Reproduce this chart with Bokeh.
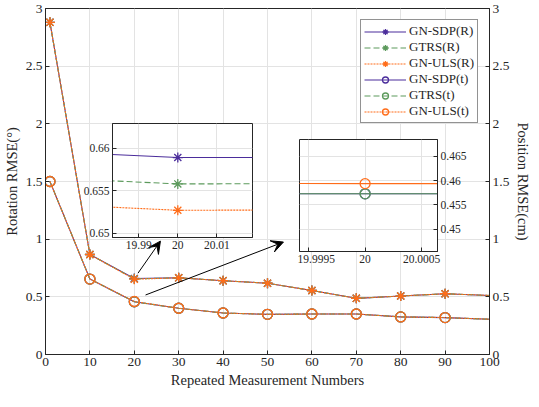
from bokeh.plotting import figure
from bokeh.models import Range1d, LinearAxis, FixedTicker, Legend, LegendItem, Arrow, VeeHead
from bokeh.embed import file_html
from bokeh.resources import INLINE

# ---------------- data ----------------
meas_numbers = [1, 10, 20, 30, 40, 50, 60, 70, 80, 90, 100]
rot_gn_sdp = [2.88, 0.867, 0.6589, 0.665, 0.640, 0.618, 0.555, 0.487, 0.507, 0.527, 0.512]
rot_gtrs = [2.88, 0.867, 0.6558, 0.665, 0.640, 0.618, 0.555, 0.487, 0.507, 0.527, 0.512]
rot_gn_uls = [2.88, 0.867, 0.6527, 0.665, 0.640, 0.618, 0.555, 0.487, 0.507, 0.527, 0.512]
pos_gn_sdp = [1.50, 0.654, 0.4573, 0.401, 0.360, 0.348, 0.351, 0.351, 0.326, 0.320, 0.306]
pos_gtrs = [1.50, 0.654, 0.4573, 0.401, 0.360, 0.348, 0.351, 0.351, 0.326, 0.320, 0.306]
pos_gn_uls = [1.50, 0.654, 0.4594, 0.401, 0.360, 0.348, 0.351, 0.351, 0.326, 0.320, 0.306]

x_ticks = [0, 10, 20, 30, 40, 50, 60, 70, 80, 90, 100]
x_tick_labels = ["0", "10", "20", "30", "40", "50", "60", "70", "80", "90", "100"]
y_ticks = [0, 0.5, 1, 1.5, 2, 2.5, 3]
y_tick_labels = ["0", "0.5", "1", "1.5", "2", "2.5", "3"]

inset1_x_ticks = [19.99, 20, 20.01]
inset1_x_labels = ["19.99", "20", "20.01"]
inset1_y_ticks = [0.65, 0.655, 0.66]
inset1_y_labels = ["0.65", "0.655", "0.66"]
inset2_x_ticks = [19.9995, 20, 20.0005]
inset2_x_labels = ["19.9995", "20", "20.0005"]
inset2_y_ticks = [0.45, 0.455, 0.46, 0.465]
inset2_y_labels = ["0.45", "0.455", "0.46", "0.465"]

# inset view windows (data units of the inset)
inset1_xlim = (19.9833, 20.0191)
inset1_ylim = (0.6495, 0.6629)
inset2_xlim = (19.99942, 20.00064)
inset2_ylim = (0.4454, 0.4685)

# inset boxes placed in main-plot data coordinates (x0, x1, y_top, y_bottom)
inset1_box = (14.12, 45.54, 2.071, 1.082)
inset2_box = (56.20, 87.33, 1.938, 0.966)

# arrows (main data coordinates): x_start, y_start, x_end, y_end
arrow1 = (20.83, 0.705, 25.88, 0.983)
arrow2 = (22.53, 0.516, 53.59, 0.975)

# ---------------- style ----------------
FONT = "Liberation Serif"
TXT = "#262626"
GRID = "#e3e3e3"
C_SDP = "#4b2d9b"
C_GTRS = "#5c9a5c"
C_ULS = "#ff6d1a"

PAGE_MARGIN = 8
LB, RB, TB, BB = 41, 38, 8, 37
FW, FH = 444, 346


def overrides(ticks, labels):
    d = {}
    for t, l in zip(ticks, labels):
        d[int(t) if float(t).is_integer() else t] = l
    return d


def style_axis(ax, ticks, labels, size="13.5px"):
    ax.ticker = FixedTicker(ticks=ticks)
    ax.major_label_overrides = overrides(ticks, labels)
    ax.major_tick_in = 4
    ax.major_tick_out = 0
    ax.minor_tick_in = 0
    ax.minor_tick_out = 0
    ax.axis_line_color = TXT
    ax.major_tick_line_color = TXT
    ax.major_label_text_font = FONT
    ax.major_label_text_color = TXT
    ax.major_label_text_font_size = size
    ax.major_label_standoff = 3
    ax.axis_label_text_font = FONT
    ax.axis_label_text_font_style = "normal"
    ax.axis_label_text_color = TXT
    ax.axis_label_text_font_size = "14.5px"
    ax.axis_label_standoff = 3


# ---------------- main figure ----------------
p = figure(frame_width=FW, frame_height=FH,
           min_border_left=LB, min_border_right=RB, min_border_top=TB, min_border_bottom=BB,
           x_range=Range1d(0, 100), y_range=Range1d(0, 3),
           output_backend="svg", toolbar_location=None)
p.extra_y_ranges = {"pos": Range1d(0, 3)}
p.outline_line_color = TXT
p.background_fill_color = "white"
p.border_fill_color = "white"

style_axis(p.xaxis[0], x_ticks, x_tick_labels)
p.xaxis[0].axis_label = "Repeated Measurement Numbers"
style_axis(p.yaxis[0], y_ticks, y_tick_labels)
p.yaxis[0].axis_label = "Rotation RMSE(°)"
ax_r = LinearAxis(y_range_name="pos", axis_label="Position RMSE(cm)")
style_axis(ax_r, y_ticks, y_tick_labels)
p.add_layout(ax_r, "right")

p.xgrid.ticker = FixedTicker(ticks=x_ticks)
p.ygrid.ticker = FixedTicker(ticks=y_ticks)
p.xgrid.grid_line_color = GRID
p.ygrid.grid_line_color = GRID

series = [
    ("GN-SDP(R)", rot_gn_sdp, C_SDP, "solid", "asterisk"),
    ("GTRS(R)", rot_gtrs, C_GTRS, "6 3", "asterisk"),
    ("GN-ULS(R)", rot_gn_uls, C_ULS, "2 1", "asterisk"),
    ("GN-SDP(t)", pos_gn_sdp, C_SDP, "solid", "circle"),
    ("GTRS(t)", pos_gtrs, C_GTRS, "6 3", "circle"),
    ("GN-ULS(t)", pos_gn_uls, C_ULS, "2 1", "circle"),
]


def draw(fig, name, vals, color, dash, marker, legend_items=None):
    ln = fig.line(meas_numbers, vals, line_color=color, line_width=1.1, line_dash=dash)
    sc = fig.scatter(meas_numbers[:-1], vals[:-1], marker=marker, size=10,
                     line_color=color, line_width=1.3,
                     fill_color=None)
    if legend_items is not None:
        legend_items.append(LegendItem(label=name, renderers=[ln, sc]))


items = []
for s in series:
    draw(p, *s, legend_items=items)

legend = Legend(items=items, location="top_right")
legend.margin = 11
legend.padding = 3
legend.spacing = 0
legend.label_height = 15
legend.glyph_height = 15
legend.glyph_width = 42
legend.label_standoff = 3
legend.label_text_font = FONT
legend.label_text_font_size = "13px"
legend.label_text_color = TXT
legend.border_line_color = TXT
legend.border_line_width = 1
legend.background_fill_color = "white"
legend.background_fill_alpha = 1
p.add_layout(legend)

for a in (arrow1, arrow2):
    p.add_layout(Arrow(x_start=a[0], y_start=a[1], x_end=a[2], y_end=a[3],
                       line_color="black", line_width=1,
                       end=VeeHead(size=12, fill_color="black", line_color="black")))


def fx(x):
    return PAGE_MARGIN + LB + x / 100.0 * FW


def fy(y):
    return PAGE_MARGIN + TB + (3 - y) / 3.0 * FH


def make_inset(box, xlim, ylim, xt, xl, yt, yl, sers, yside):
    x0, x1, ytop, ybot = box
    fw = int(round(fx(x1) - fx(x0)))
    fh = int(round(fy(ybot) - fy(ytop)))
    if yside == "left":
        bl, br = 34, 2
    else:
        bl, br = 2, 38
    bt, bb = 2, 22
    left = fx(x0) - bl
    top = fy(ytop) - bt
    f = figure(frame_width=fw, frame_height=fh,
               min_border_left=bl, min_border_right=br, min_border_top=bt, min_border_bottom=bb,
               x_range=Range1d(*xlim), y_range=Range1d(*ylim),
               y_axis_location=yside,
               output_backend="svg", toolbar_location=None,
               styles={"position": "absolute", "left": f"{left:.1f}px", "top": f"{top:.1f}px",
                       "z-index": "2"})
    f.outline_line_color = TXT
    f.background_fill_color = "white"
    f.border_fill_alpha = 0
    f.border_fill_color = None
    style_axis(f.xaxis[0], xt, xl, size="11.5px")
    style_axis(f.yaxis[0], yt, yl, size="11.5px")
    f.xgrid.ticker = FixedTicker(ticks=xt)
    f.ygrid.ticker = FixedTicker(ticks=yt)
    f.xgrid.grid_line_color = GRID
    f.ygrid.grid_line_color = GRID
    for s in sers:
        draw(f, *s)
    return f


ins1 = make_inset(inset1_box, inset1_xlim, inset1_ylim, inset1_x_ticks, inset1_x_labels,
                  inset1_y_ticks, inset1_y_labels, series[:3], "left")
ins2 = make_inset(inset2_box, inset2_xlim, inset2_ylim, inset2_x_ticks, inset2_x_labels,
                  inset2_y_ticks, inset2_y_labels, series[3:], "right")

open("out.html", "w").write(file_html([p, ins1, ins2], INLINE))
